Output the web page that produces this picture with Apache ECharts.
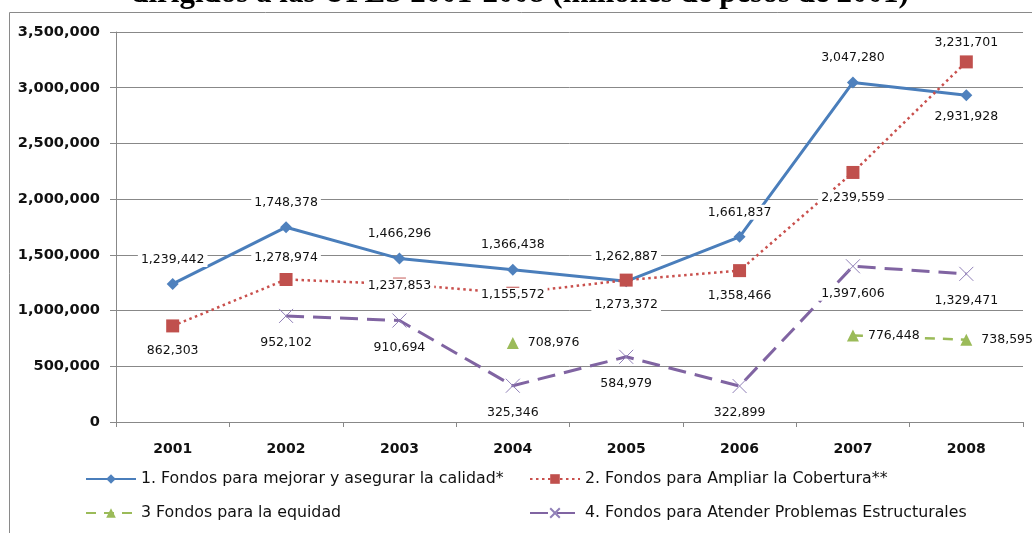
<!DOCTYPE html>
<html><head><meta charset="utf-8">
<script src="https://cdn.jsdelivr.net/npm/echarts@6/dist/echarts.min.js"></script>
<style>html,body{margin:0;padding:0;background:#fff}#c{width:1032px;height:533px}</style>
</head><body><div id="c"></div>
<script>
const categories = ['2001','2002','2003','2004','2005','2006','2007','2008'];
const calidad = [1239442,1748378,1466296,1366438,1262887,1661837,3047280,2931928];
const cobertura = [862303,1278974,1237853,1155572,1273372,1358466,2239559,3231701];
const equidad = [null,null,null,708976,null,null,776448,738595];
const estructurales = [null,952102,910694,325346,584979,322899,1397606,1329471];
const seriesNames = ['1. Fondos para mejorar y asegurar la calidad*','2. Fondos para Ampliar la Cobertura**','3 Fondos para la equidad','4. Fondos para Atender Problemas Estructurales'];
const yMin = 0, yMax = 3500000, yInterval = 500000;
const titleText = 'dirigidos a las UPES 2001-2008 (millones de pesos de 2001)';

// label placement (style only)
const calidadPos = ['top','top','top','top','top','top','top','bottom'];
const coberturaPos = ['bottom','top','inside','inside','bottom','bottom','bottom','top'];

const fmt = v => Number(v).toLocaleString('en-US');
const labelBase = {show:true, fontFamily:'DejaVu Sans', fontSize:12.5, color:'#111',
  backgroundColor:'#fff', padding:[1,3], formatter:p => fmt(p.value)};

function withPos(values, pos, dist){
  return values.map((v,i)=> v==null ? null : ({value:v, label:{position:pos[i], distance:(dist[i]!=null?dist[i]:9), offset: pos[i]==='inside'?[0,2]:[0,0]}}));
}

const chart = echarts.init(document.getElementById('c'));
const legendText = {fontFamily:'DejaVu Sans', fontSize:15.8, color:'#111'};
const legendCommon = {orient:'horizontal', padding:0, itemWidth:50, itemHeight:12, itemGap:10, textStyle:legendText, selectedMode:false};

chart.setOption({
  animation:false,
  backgroundColor:'#fff',
  graphic:[
    {type:'rect', shape:{x:9.5,y:12.5,width:1100,height:600}, style:{fill:'none', stroke:'#8a8a8a', lineWidth:1}, z:-1},
    {type:'text', x:520, y:-6, style:{text:titleText, font:'bold 31px "Liberation Serif"', fill:'#000', align:'center', verticalAlign:'middle'}, z:10}
  ],
  grid:{left:116, right:9, top:32, bottom:111},
  legend:[
    Object.assign({data:[seriesNames[0]], left:85, top:471}, legendCommon),
    Object.assign({data:[seriesNames[1]], left:529, top:471}, legendCommon),
    Object.assign({data:[seriesNames[2]], left:85, top:505}, legendCommon),
    Object.assign({data:[seriesNames[3]], left:529, top:505}, legendCommon)
  ],
  xAxis:{type:'category', data:categories, boundaryGap:true,
    axisLine:{lineStyle:{color:'#888', width:1}},
    axisTick:{show:true, length:5, lineStyle:{color:'#888'}},
    axisLabel:{fontFamily:'DejaVu Sans', fontWeight:'bold', fontSize:14, color:'#111', margin:20},
    splitLine:{show:false}},
  yAxis:{type:'value', min:yMin, max:yMax, interval:yInterval,
    axisLine:{show:true, lineStyle:{color:'#888', width:1}},
    axisTick:{show:true, length:6, lineStyle:{color:'#888'}},
    axisLabel:{fontFamily:'DejaVu Sans', fontWeight:'bold', fontSize:14.6, color:'#111', margin:16, formatter:v=>fmt(v)},
    splitLine:{show:true, lineStyle:{color:'#888', width:1}}},
  series:[
    {name:seriesNames[0], type:'line', data:withPos(calidad, calidadPos, [11,11,11,11,11,11,11,8]),
      symbol:'diamond', symbolSize:12, showAllSymbol:true,
      itemStyle:{color:'#4F81BD'}, lineStyle:{color:'#4A7EBB', width:3},
      label:labelBase, z:2},
    {name:seriesNames[1], type:'line', data:withPos(cobertura, coberturaPos, [11,8,0,0,11,11,11,5]),
      symbol:'rect', symbolSize:13, showAllSymbol:true,
      itemStyle:{color:'#C0504D'}, lineStyle:{color:'#C9504D', width:2.5, type:[2.5,3.5]},
      label:labelBase, z:3},
    {name:seriesNames[2], type:'line', data:equidad, connectNulls:false,
      symbol:'triangle', symbolSize:12, showAllSymbol:true,
      itemStyle:{color:'#9BBB59'}, lineStyle:{color:'#9BBB59', width:2.5, type:[10,8]},
      label:Object.assign({}, labelBase, {position:'right', distance:6}), z:4},
    {name:seriesNames[3], type:'line', data:estructurales, connectNulls:false,
      symbol:'path://M0,0L10,10M10,0L0,10', symbolSize:14, showAllSymbol:true,
      itemStyle:{color:'none', borderColor:'#9080B8', borderWidth:1}, lineStyle:{color:'#8064A2', width:3, type:[18,9]},
      label:Object.assign({}, labelBase, {position:'bottom', distance:10}), z:5}
  ]
});
</script></body></html>
